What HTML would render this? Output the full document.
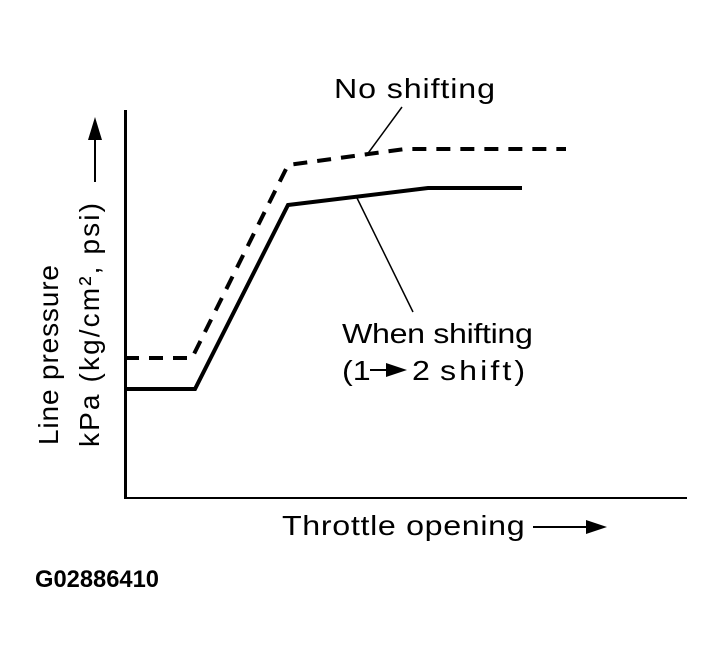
<!DOCTYPE html>
<html>
<head>
<meta charset="utf-8">
<style>
  html, body { margin: 0; padding: 0; background: #fff; }
  svg { display: block; }
  text { font-family: "Liberation Sans", Arial, sans-serif; fill: #000; }
</style>
</head>
<body>
<svg width="724" height="663" viewBox="0 0 724 663" xmlns="http://www.w3.org/2000/svg">
  <rect width="724" height="663" fill="#fff"/>

  <!-- Axes -->
  <line x1="125.5" y1="110" x2="125.5" y2="499" stroke="#000" stroke-width="3"/>
  <line x1="124" y1="498" x2="687" y2="498" stroke="#000" stroke-width="2"/>

  <!-- Solid line: when shifting -->
  <polyline points="125,389 195,389 288,205 428,188 522,188" fill="none" stroke="#000" stroke-width="4" stroke-linejoin="miter"/>

  <!-- Dashed line: no shifting -->
  <polyline points="125,358 192,358 288,165 405,149 566,149" fill="none" stroke="#000" stroke-width="4" stroke-dasharray="14,10"/>

  <!-- Leader lines -->
  <line x1="402" y1="107" x2="366" y2="156" stroke="#000" stroke-width="1.5"/>
  <line x1="357" y1="198" x2="413" y2="312" stroke="#000" stroke-width="1.5"/>

  <!-- Labels -->
  <text transform="translate(334,98) scale(1.15,1)" font-size="28" textLength="140" lengthAdjust="spacing">No shifting</text>
  <text transform="translate(342,343) scale(1.15,1)" font-size="28" textLength="166" lengthAdjust="spacing">When shifting</text>
  <text transform="translate(342,380) scale(1.15,1)" font-size="28">(1</text>
  <line x1="370" y1="370" x2="388" y2="370" stroke="#000" stroke-width="2"/>
  <polygon points="386,363 407,370 386,377" fill="#000"/>
  <text transform="translate(412,380) scale(1.15,1)" font-size="28">2</text>
  <text transform="translate(440,380) scale(1.15,1)" font-size="28" textLength="74" lengthAdjust="spacing">shift)</text>

  <!-- X axis label -->
  <text transform="translate(282,535) scale(1.15,1)" font-size="28" textLength="211" lengthAdjust="spacing">Throttle opening</text>
  <line x1="533" y1="527" x2="590" y2="527" stroke="#000" stroke-width="2"/>
  <polygon points="586,520 607,527 586,534" fill="#000"/>

  <!-- Y axis labels (rotated) -->
  <text transform="translate(58,445) rotate(-90)" font-size="28" textLength="180" lengthAdjust="spacing">Line pressure</text>
  <text transform="translate(99,447) rotate(-90)" font-size="28" textLength="244" lengthAdjust="spacing">kPa (kg/cm², psi)</text>
  <line x1="95" y1="182" x2="95" y2="136" stroke="#000" stroke-width="2"/>
  <polygon points="88,140 95,117 102,140" fill="#000"/>

  <!-- Figure code -->
  <text x="35" y="587" font-size="24" font-weight="bold" textLength="124" lengthAdjust="spacingAndGlyphs">G02886410</text>
</svg>
</body>
</html>
